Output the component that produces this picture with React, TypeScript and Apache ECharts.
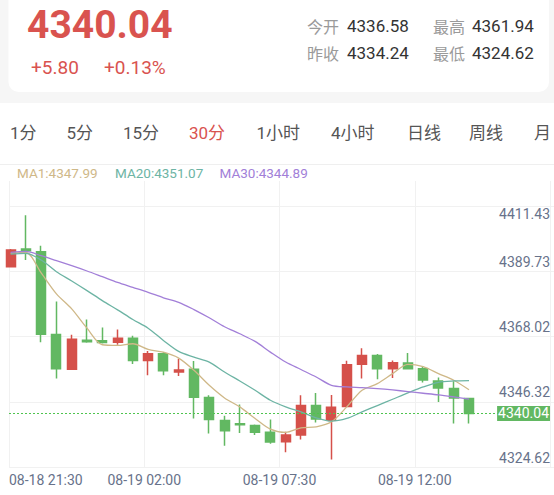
import React, { useEffect, useRef } from 'react';
import * as echarts from 'echarts';

// ---------- data ----------
const candleTimes = [
  '08-18 21:30', '08-18 22:00', '08-18 22:30', '08-18 23:00', '08-18 23:30',
  '08-19 00:00', '08-19 00:30', '08-19 01:00', '08-19 01:30', '08-19 02:00',
  '08-19 02:30', '08-19 03:00', '08-19 03:30', '08-19 04:00', '08-19 04:30',
  '08-19 06:00', '08-19 06:30', '08-19 07:00', '08-19 07:30', '08-19 08:00',
  '08-19 08:30', '08-19 09:00', '08-19 09:30', '08-19 10:00', '08-19 10:30',
  '08-19 11:00', '08-19 11:30', '08-19 12:00', '08-19 12:30', '08-19 13:00',
  '08-19 13:30',
];
const opens = [
  4389.30, 4395.22, 4394.32, 4366.56, 4354.85, 4364.65, 4364.45, 4363.98, 4365.32, 4357.86,
  4360.10, 4353.95, 4354.85, 4345.39, 4337.70, 4336.58, 4336.02, 4333.78, 4330.54, 4332.78,
  4342.71, 4337.80, 4342.38, 4356.53, 4359.54, 4355.09, 4356.96, 4355.09, 4350.94, 4348.40,
  4345.05,
];
const closes = [
  4394.89, 4394.65, 4366.66, 4355.09, 4364.99, 4364.12, 4363.88, 4365.32, 4357.86, 4360.10,
  4354.42, 4354.62, 4345.49, 4338.03, 4334.24, 4336.29, 4333.78, 4330.44, 4332.78, 4342.71,
  4338.23, 4342.15, 4356.43, 4359.54, 4355.09, 4357.09, 4355.09, 4351.28, 4348.60, 4345.26,
  4340.04,
];
const lows = [
  4389.10, 4391.54, 4363.98, 4351.74, 4354.70, 4363.78, 4363.55, 4363.11, 4356.63, 4352.85,
  4352.85, 4352.61, 4338.37, 4333.35, 4329.20, 4333.45, 4332.78, 4329.87, 4326.99, 4331.34,
  4337.03, 4324.62, 4342.20, 4351.74, 4351.51, 4351.94, 4355.00, 4350.41, 4343.92, 4336.69,
  4336.69,
];
const highs = [
  4395.20, 4406.59, 4396.33, 4377.60, 4366.46, 4371.58, 4368.90, 4368.23, 4366.12, 4360.97,
  4360.70, 4358.43, 4357.63, 4346.16, 4339.24, 4343.05, 4336.36, 4338.03, 4333.88, 4346.16,
  4346.93, 4346.26, 4357.76, 4361.94, 4359.97, 4357.86, 4360.31, 4355.96, 4352.08, 4350.84,
  4345.05,
];
const ma1 = [
  4393.75, 4394.08, 4387.20, 4380.17, 4375.16, 4368.67, 4363.11, 4362.88, 4363.45, 4361.54,
  4360.60, 4358.63, 4354.52, 4349.50, 4345.26, 4342.25, 4338.37, 4334.79, 4333.68, 4335.23,
  4335.57, 4337.24, 4342.26, 4347.83, 4350.06, 4353.41, 4356.53, 4355.75, 4353.41, 4351.18,
  4347.99,
];
const ma20 = [
  4393.55, 4393.75, 4391.54, 4387.63, 4384.52, 4381.28, 4377.93, 4374.82, 4371.58, 4368.67,
  4364.55, 4360.87, 4358.97, 4357.30, 4353.95, 4350.94, 4347.83, 4344.49, 4342.25, 4340.58,
  4338.58, 4337.46, 4338.36, 4340.58, 4342.70, 4344.82, 4346.94, 4348.94, 4350.51, 4350.95,
  4351.07,
];
const ma30 = [
  4394.08, 4394.42, 4392.98, 4391.31, 4389.64, 4387.86, 4385.96, 4384.05, 4382.38, 4380.71,
  4378.87, 4377.36, 4374.92, 4372.15, 4369.14, 4366.79, 4364.22, 4360.64, 4357.30, 4354.80,
  4352.29, 4349.50, 4348.94, 4348.72, 4348.39, 4347.94, 4347.39, 4346.83, 4346.27, 4345.60,
  4344.89,
];
const priceTicks = ['4324.62', '4346.32', '4368.02', '4389.73', '4411.43'];
const timeTicks = ['08-18 21:30', '08-19 02:00', '08-19 07:30', '08-19 12:00'];
const tabs = ['1分', '5分', '15分', '30分', '1小时', '4小时', '日线', '周线', '月'];
const activeTab = '30分';
const lastPrice = '4340.04';
const changeAbs = '+5.80';
const changePct = '+0.13%';
const statLabels = ['今开', '最高', '昨收', '最低'];
const statValues = ['4336.58', '4361.94', '4334.24', '4324.62'];
const maNames = ['MA1', 'MA20', 'MA30'];

// ---------- styles ----------
const RED = '#d9534f';
const CANDLE_RED = '#d5504a';
const GREEN = '#62b862';
const DOT_GREEN = '#4fc44f';
const MA_COLORS = ['#cfb888', '#6db4a4', '#a27fd8'];
const LABEL_COLOR = '#67728a';
const GRID_LINE = '#f1f1f1';
const NUM_FONT = 'Roboto, "Noto Sans CJK SC", sans-serif';
const CJK_FONT = '"Noto Sans CJK SC", Roboto, sans-serif';

const tabX = [10, 66.5, 123, 189, 256.5, 331, 407, 469, 534];
const legendX = [17, 115, 219.5];
const statX = [[307, 347], [433, 472], [307, 347], [433, 472]];
const statY = [26, 26, 52.5, 52.5];

export default function App() {
  const ref = useRef<HTMLDivElement>(null);

  useEffect(() => {
    if (!ref.current) return;
    const chart = echarts.init(ref.current, undefined, { renderer: 'svg' });

    const candleData = opens.map((o, i) => ({ name: candleTimes[i], value: [i, o, closes[i], lows[i], highs[i]] }));
    const toLine = (arr: number[]) => arr.map((v, i) => [i, v]);
    const maArrays = [ma1, ma20, ma30];
    const last = closes[closes.length - 1];

    const graphic: any[] = [
      { type: 'rect', z: -10, silent: true, shape: { x: 8.5, y: -20, width: 540.5, height: 112, r: 10 }, style: { fill: '#ffffff' } },
      { type: 'rect', z: -10, silent: true, shape: { x: 0, y: 103, width: 554, height: 392 }, style: { fill: '#ffffff' } },
      { type: 'line', z: -5, silent: true, shape: { x1: 0, y1: 164.5, x2: 554, y2: 164.5 }, style: { stroke: '#efefef', lineWidth: 1 } },
      {
        type: 'text', x: 27, y: 25,
        style: { text: lastPrice, fill: RED, fontSize: 39, fontWeight: 'bold', fontFamily: NUM_FONT, textAlign: 'left', textVerticalAlign: 'middle', align: 'left', verticalAlign: 'middle' },
      },
      {
        type: 'text', x: 31, y: 67,
        style: { text: changeAbs, fill: RED, fontSize: 19, fontFamily: NUM_FONT, textAlign: 'left', textVerticalAlign: 'middle', align: 'left', verticalAlign: 'middle' },
      },
      {
        type: 'text', x: 104, y: 67,
        style: { text: changePct, fill: RED, fontSize: 19, fontFamily: NUM_FONT, textAlign: 'left', textVerticalAlign: 'middle', align: 'left', verticalAlign: 'middle' },
      },
    ];
    statLabels.forEach((lab, i) => {
      graphic.push({
        type: 'text', x: statX[i][0], y: statY[i],
        style: { text: lab, fill: '#9a9a9a', fontSize: 16, fontFamily: CJK_FONT, textAlign: 'left', textVerticalAlign: 'middle', align: 'left', verticalAlign: 'middle' },
      });
      graphic.push({
        type: 'text', x: statX[i][1], y: statY[i],
        style: { text: statValues[i], fill: '#333333', fontSize: 17, fontFamily: NUM_FONT, textAlign: 'left', textVerticalAlign: 'middle', align: 'left', verticalAlign: 'middle' },
      });
    });
    tabs.forEach((t, i) => {
      graphic.push({
        type: 'text', x: tabX[i], y: 133,
        style: { text: t, fill: t === activeTab ? RED : '#555555', fontSize: 17, fontFamily: NUM_FONT, textAlign: 'left', textVerticalAlign: 'middle', align: 'left', verticalAlign: 'middle' },
      });
    });
    maNames.forEach((n, i) => {
      const arr = maArrays[i];
      graphic.push({
        type: 'text', x: legendX[i], y: 173,
        style: { text: `${n}:${arr[arr.length - 1].toFixed(2)}`, fill: MA_COLORS[i], fontSize: 13.5, fontFamily: NUM_FONT, textAlign: 'left', textVerticalAlign: 'middle', align: 'left', verticalAlign: 'middle' },
      });
    });

    const option: any = {
      animation: false,
      backgroundColor: '#f6f6f6',
      graphic,
      grid: [
        { left: 9, right: 4, top: 181, bottom: 28 },
        { left: 9, right: 0, top: 206, bottom: 28 },
      ],
      xAxis: [
        { gridIndex: 0, type: 'value', min: -0.1047, max: 35.30, show: false },
        {
          gridIndex: 0, type: 'value', min: 0, max: 4, interval: 1, position: 'bottom',
          axisLine: { show: false }, axisTick: { show: false },
          splitLine: { show: true, lineStyle: { color: GRID_LINE, width: 1 } },
          axisLabel: {
            margin: 6, color: LABEL_COLOR, fontSize: 14, fontFamily: NUM_FONT,
            alignMinLabel: 'left',
            formatter: (v: number) => timeTicks[v] ?? '',
          },
        },
        { gridIndex: 1, type: 'value', min: 0, max: 1, show: false },
      ],
      yAxis: [
        { gridIndex: 0, type: 'value', min: 4322.08, max: 4418.06, show: false },
        {
          gridIndex: 1, type: 'value', min: 0, max: 4, interval: 1, position: 'right',
          axisLine: { show: false }, axisTick: { show: false },
          splitLine: { show: true, lineStyle: { color: GRID_LINE, width: 1 } },
          axisLabel: {
            inside: true, margin: 4, color: LABEL_COLOR, fontSize: 14, fontFamily: NUM_FONT,
            verticalAlign: 'middle',
            formatter: (v: number) => (v === 4 ? `{t|${priceTicks[v]}}` : `{b|${priceTicks[v] ?? ''}}`),
            rich: {
              t: { padding: [16, 0, 0, 0], color: LABEL_COLOR, fontSize: 14, fontFamily: NUM_FONT },
              b: { padding: [0, 0, 19, 0], color: LABEL_COLOR, fontSize: 14, fontFamily: NUM_FONT },
            },
          },
        },
      ],
      series: [
        {
          type: 'candlestick', xAxisIndex: 0, yAxisIndex: 0, data: candleData, barWidth: 9.5,
          itemStyle: { color: CANDLE_RED, color0: GREEN, borderColor: CANDLE_RED, borderColor0: GREEN, borderWidth: 1.5 },
          emphasis: { disabled: true },
        },
        ...maArrays.map((arr, i) => ({
          type: 'line', name: maNames[i], xAxisIndex: 0, yAxisIndex: 0, data: toLine(arr),
          symbol: 'none', showSymbol: false, smooth: 0.3,
          lineStyle: { color: MA_COLORS[i], width: 1.3 },
          emphasis: { disabled: true },
        })),
        {
          type: 'line', name: 'last', xAxisIndex: 0, yAxisIndex: 0, data: [],
          color: DOT_GREEN, symbol: 'none',
          markLine: {
            silent: true, symbol: ['none', 'none'], animation: false,
            data: [{ yAxis: last }],
            lineStyle: { color: DOT_GREEN, type: [2, 2], width: 1 },
            label: {
              show: true, position: 'insideEnd', distance: 0,
              formatter: () => last.toFixed(2),
              color: '#ffffff', backgroundColor: GREEN, padding: [1, 1, 0, 1], fontSize: 14, fontFamily: NUM_FONT,
            },
            emphasis: { disabled: true },
          },
        },
      ],
    };

    chart.setOption(option);
    return () => chart.dispose();
  }, []);

  return <div ref={ref} style={{ position: 'fixed', left: 0, top: 0, width: 554, height: 495 }} />;
}
